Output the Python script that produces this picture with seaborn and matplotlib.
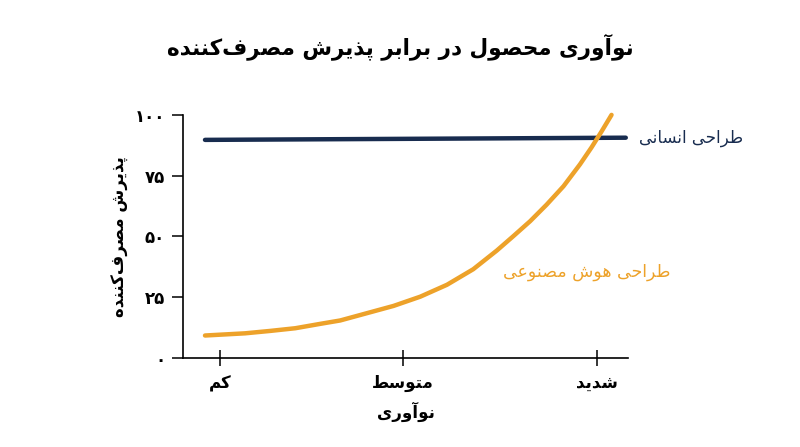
import matplotlib.pyplot as plt
import pandas as pd
import seaborn as sns

# --- داده‌ها (خوانده شده از تصویر) ---
title_text = 'نوآوری محصول در برابر پذیرش مصرف\u200cکننده'
x_label = 'نوآوری'
y_label = 'پذیرش مصرف\u200cکننده'

x_tick_pos = [8.3, 49.4, 93.0]
x_tick_labels = ['کم', 'متوسط', 'شدید']
y_tick_pos = [0, 25, 50, 75, 100]
y_tick_labels = ['۰', '۲۵', '۵۰', '۷۵', '۱۰۰']

human_name = 'طراحی انسانی'
human_x = [4.9, 99.5]
human_y = [89.7, 90.6]

ai_name = 'طراحی هوش مصنوعی'
ai_x = [4.9, 13.9, 19.6, 25.2, 30.8, 35.3, 41.3, 47.3, 53.3, 59.3, 65.2, 70.5,
        74.2, 78.0, 81.7, 85.5, 89.2, 91.8, 94.0, 96.3]
ai_y = [9.1, 10.0, 11.0, 12.1, 13.9, 15.3, 18.3, 21.3, 25.1, 30.0, 36.4, 44.1,
        50.0, 56.2, 63.0, 70.6, 79.6, 86.6, 93.0, 100.0]

NAVY = '#182c4f'
ORANGE = '#eda22a'

# --- شکل‌دهی ساده حروف فارسی (matplotlib خودش حروف را نمی‌چسباند) ---
FORMS = {
    'ا': ('\ufe8d', '\ufe8e'), 'آ': ('\ufe81', '\ufe82'),
    'د': ('\ufea9', '\ufeaa'), 'ذ': ('\ufeab', '\ufeac'),
    'ر': ('\ufead', '\ufeae'), 'و': ('\ufeed', '\ufeee'),
    'ب': ('\ufe8f', '\ufe90', '\ufe91', '\ufe92'),
    'پ': ('\ufb56', '\ufb57', '\ufb58', '\ufb59'),
    'ت': ('\ufe95', '\ufe96', '\ufe97', '\ufe98'),
    'ح': ('\ufea1', '\ufea2', '\ufea3', '\ufea4'),
    'س': ('\ufeb1', '\ufeb2', '\ufeb3', '\ufeb4'),
    'ش': ('\ufeb5', '\ufeb6', '\ufeb7', '\ufeb8'),
    'ص': ('\ufeb9', '\ufeba', '\ufebb', '\ufebc'),
    'ط': ('\ufec1', '\ufec2', '\ufec3', '\ufec4'),
    'ع': ('\ufec9', '\ufeca', '\ufecb', '\ufecc'),
    'ف': ('\ufed1', '\ufed2', '\ufed3', '\ufed4'),
    'ک': ('\ufb8e', '\ufb8f', '\ufb90', '\ufb91'),
    'ل': ('\ufedd', '\ufede', '\ufedf', '\ufee0'),
    'م': ('\ufee1', '\ufee2', '\ufee3', '\ufee4'),
    'ن': ('\ufee5', '\ufee6', '\ufee7', '\ufee8'),
    'ه': ('\ufee9', '\ufeea', '\ufeeb', '\ufeec'),
    'ی': ('\ufbfc', '\ufbfd', '\ufbfe', '\ufbff'),
}


def fa(text):
    out = []
    for i, c in enumerate(text):
        if c not in FORMS:
            if c != '\u200c':
                out.append(c)
            continue
        prev = text[i - 1] if i > 0 else ''
        nxt = text[i + 1] if i + 1 < len(text) else ''
        joins_prev = prev in FORMS and len(FORMS[prev]) == 4
        joins_next = len(FORMS[c]) == 4 and nxt in FORMS
        if joins_prev and joins_next:
            out.append(FORMS[c][3])
        elif joins_prev:
            out.append(FORMS[c][1])
        elif joins_next:
            out.append(FORMS[c][2])
        else:
            out.append(FORMS[c][0])
    return ''.join(reversed(out))


sns.set_style('white')
plt.rcParams['font.family'] = ['DejaVu Sans']

fig = plt.figure(figsize=(8, 4.47), dpi=100)
ax = fig.add_axes([0.229, 0.2, 0.556, 0.543])

human = pd.DataFrame({'x': human_x, 'y': human_y})
ai = pd.DataFrame({'x': ai_x, 'y': ai_y})
sns.lineplot(data=human, x='x', y='y', color=NAVY, linewidth=3.2, ax=ax,
             solid_capstyle='round', clip_on=False)
sns.lineplot(data=ai, x='x', y='y', color=ORANGE, linewidth=3.2, ax=ax,
             solid_capstyle='round', solid_joinstyle='round', clip_on=False)

ax.set_xlim(0, 100)
ax.set_ylim(0, 100)
ax.set_xticks(x_tick_pos)
ax.set_xticklabels([fa(t) for t in x_tick_labels], fontsize=12,
                   fontweight='bold', color='black')
ax.set_yticks(y_tick_pos)
ax.set_yticklabels(y_tick_labels, fontsize=12, fontweight='bold', color='black')
ax.tick_params(axis='x', bottom=True, direction='inout', length=12, width=1.1,
               pad=6, color='black')
ax.tick_params(axis='y', left=True, direction='out', length=8, width=1.1,
               pad=5, color='black')

for side in ['top', 'right']:
    ax.spines[side].set_visible(False)
for side in ['left', 'bottom']:
    ax.spines[side].set_linewidth(1.2)
    ax.spines[side].set_color('black')

ax.set_xlabel(fa(x_label), fontsize=12, fontweight='bold', labelpad=7,
              color='black')
ax.set_ylabel(fa(y_label), fontsize=12, fontweight='bold', labelpad=4,
              color='black')

ax.text(102.5, human_y[-1], fa(human_name), color=NAVY, fontsize=12,
        va='center', ha='left', clip_on=False)
ax.text(72, 35.3, fa(ai_name), color=ORANGE, fontsize=12.5,
        va='center', ha='left')

fig.suptitle(fa(title_text), x=0.5, y=0.895, va='center', fontsize=15.5,
             fontweight='bold', color='black')

fig.savefig('out.png', dpi=100)
